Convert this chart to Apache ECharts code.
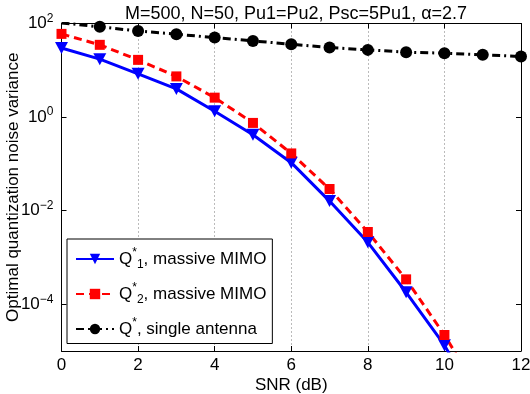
<!DOCTYPE html>
<html>
<head>
<meta charset="utf-8">
<script src="https://cdn.jsdelivr.net/npm/echarts@6/dist/echarts.min.js"></script>
<style>
html,body{margin:0;padding:0;background:#fff;}
#c{width:530px;height:394px;}
</style>
</head>
<body>
<div id="c"></div>
<script>
// ---- data ----
var snr = [0, 1, 2, 3, 4, 5, 6, 7, 8, 9, 10, 11, 12];
var q1Massive = [30, 17.3, 8.4, 4.0, 1.33, 0.42, 0.106, 0.016, 0.0021, 1.8e-4, 1.33e-5, 5e-7, 1.5e-8];
var q2Massive = [60, 35, 16.7, 7.4, 2.6, 0.75, 0.167, 0.029, 0.0035, 3.4e-4, 2.2e-5, 1e-6, 3e-8];
var qSingle = [103, 85, 69, 59, 50, 42.5, 36, 30.6, 27.3, 24.4, 23.2, 21.4, 19.7];
var xTicks = [0, 2, 4, 6, 8, 10, 12];
var yTickExps = [-4, -2, 0, 2];
var seriesNames = ['Q1', 'Q2', 'Q'];
var legendTexts = {
  'Q1': '{m|Q}{sup|*}{sub|1}{m|, massive MIMO}',
  'Q2': '{m|Q}{sup|*}{sub|2}{m|, massive MIMO}',
  'Q': '{m|Q}{sup|*}{m|, single antenna}'
};
var titleText = 'M=500, N=50, Pu1=Pu2, Psc=5Pu1, \u03b1=2.7';

function toPairs(xs, ys) {
  return xs.map(function (x, i) { return [x, Math.log10(ys[i])]; });
}

var FONT = 'Liberation Sans, Arial, Helvetica, sans-serif';
var chart = echarts.init(document.getElementById('c'), null, {renderer: 'canvas'});

var yLabelFmt = function (v) {
  var e = Math.round(v);
  return '{b|10}{s|' + (e < 0 ? '\u2212' + (-e) : e) + '}';
};
var yRich = {
  b: {fontSize: 17, fontFamily: FONT, color: '#000', lineHeight: 22},
  s: {fontSize: 12, fontFamily: FONT, color: '#000', lineHeight: 12, verticalAlign: 'top'}
};

var option = {
  animation: false,
  backgroundColor: '#fff',
  title: {
    text: titleText,
    left: 291,
    textAlign: 'center',
    top: 0,
    textStyle: {fontSize: 18, fontWeight: 'normal', fontFamily: FONT, color: '#000'}
  },
  grid: {left: 61.5, right: 9, top: 23.5, bottom: 43, containLabel: false, outerBoundsMode: 'none'},
  legend: {
    orient: 'vertical',
    left: 67,
    top: 239,
    data: seriesNames,
    itemWidth: 38,
    itemHeight: 13,
    itemGap: 11,
    padding: [8, 6, 6, 8],
    borderColor: '#000',
    borderWidth: 1,
    backgroundColor: '#fff',
    formatter: function (n) { return legendTexts[n]; },
    textStyle: {
      fontFamily: FONT,
      color: '#000',
      rich: {
        m: {fontSize: 17, fontFamily: FONT, color: '#000', lineHeight: 24},
        sup: {fontSize: 12, fontFamily: FONT, color: '#000', lineHeight: 12, verticalAlign: 'top'},
        sub: {fontSize: 12, fontFamily: FONT, color: '#000', lineHeight: 12, verticalAlign: 'bottom'}
      }
    }
  },
  xAxis: [{
    type: 'value', min: 0, max: 12, interval: 2,
    name: 'SNR (dB)', nameLocation: 'middle', nameGap: 26, nameMoveOverlap: false,
    nameTextStyle: {fontSize: 17, fontFamily: FONT, color: '#000'},
    axisLine: {show: true, onZero: false, lineStyle: {color: '#000', width: 1}},
    axisTick: {show: true, inside: true, length: 5, lineStyle: {color: '#000'}},
    axisLabel: {fontSize: 17, fontFamily: FONT, color: '#000', margin: 6,
      customValues: xTicks},
    splitLine: {show: true, lineStyle: {color: '#777', width: 1, type: [1, 3]}}
  }, {
    type: 'value', min: 0, max: 12, interval: 2, position: 'top',
    axisLine: {show: true, onZero: false, lineStyle: {color: '#000', width: 1}},
    axisTick: {show: true, inside: true, length: 5, lineStyle: {color: '#000'}},
    axisLabel: {show: false},
    splitLine: {show: false}
  }],
  yAxis: [{
    type: 'value', min: -5, max: 2,
    name: 'Optimal quantization noise variance', nameLocation: 'middle', nameGap: 40,
    nameMoveOverlap: false,
    nameRotate: 90,
    nameTextStyle: {fontSize: 17, fontFamily: FONT, color: '#000'},
    axisLine: {show: true, onZero: false, lineStyle: {color: '#000', width: 1}},
    axisTick: {show: true, inside: true, length: 5, lineStyle: {color: '#000'}, customValues: yTickExps},
    axisLabel: {formatter: yLabelFmt, rich: yRich, margin: 8, customValues: yTickExps},
    splitLine: {show: false}
  }, {
    type: 'value', min: -5, max: 2, position: 'right',
    axisLine: {show: true, onZero: false, lineStyle: {color: '#000', width: 1}},
    axisTick: {show: true, inside: true, length: 5, lineStyle: {color: '#000'}, customValues: yTickExps},
    axisLabel: {show: false},
    splitLine: {show: false}
  }],
  series: [{
    name: 'Q1', type: 'line', clip: true,
    data: toPairs(snr, q1Massive),
    symbol: 'triangle', symbolRotate: 180, symbolSize: [13, 12],
    lineStyle: {color: '#0000ff', width: 3},
    itemStyle: {color: '#0000ff'}
  }, {
    name: 'Q2', type: 'line', clip: true,
    data: toPairs(snr, q2Massive),
    symbol: 'rect', symbolSize: 10,
    lineStyle: {color: '#ff0000', width: 3, type: [8, 5]},
    itemStyle: {color: '#ff0000'}
  }, {
    name: 'Q', type: 'line', clip: true,
    data: toPairs(snr, qSingle),
    symbol: 'circle', symbolSize: 12, showAllSymbol: true,
    lineStyle: {color: '#000', width: 3, type: [8, 4, 2, 4]},
    itemStyle: {color: '#000', borderColor: '#000', borderWidth: 0}
  }]
};
chart.setOption(option);
</script>
</body>
</html>
